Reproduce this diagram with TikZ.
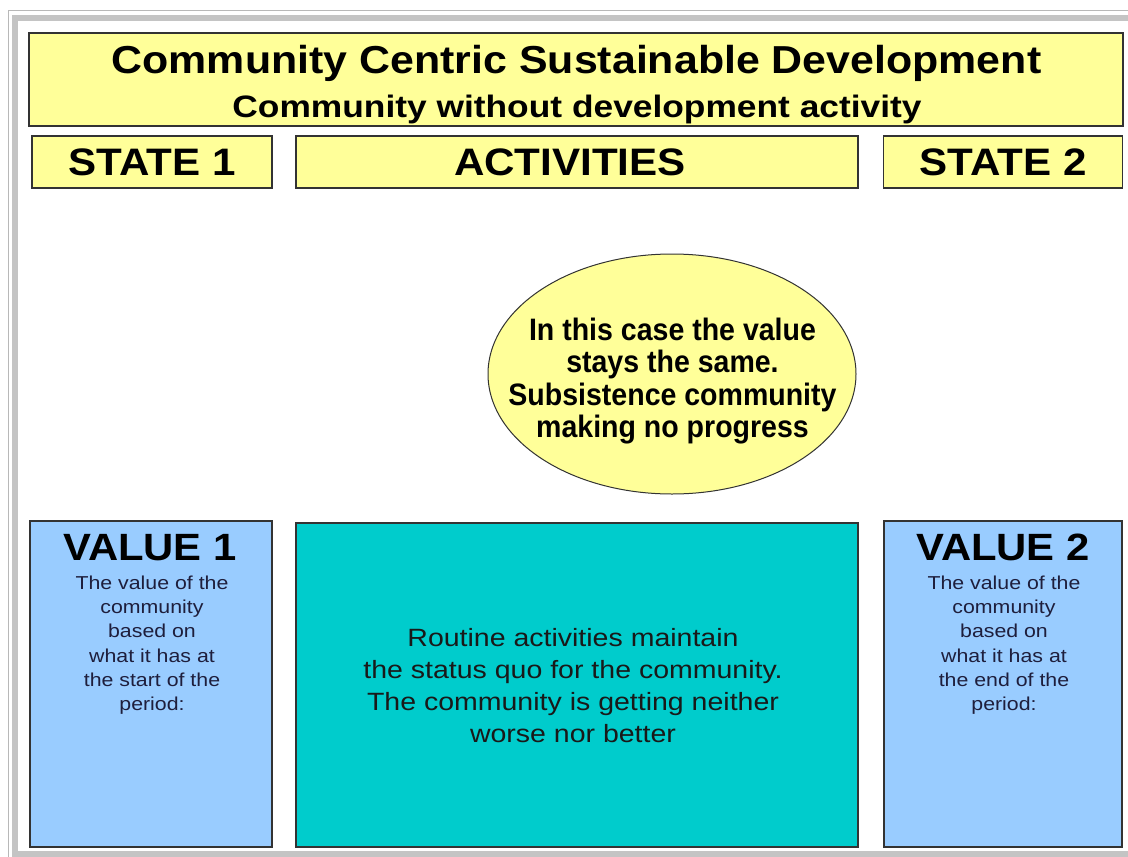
\documentclass[tikz,border=0pt]{standalone}
\usepackage{fontspec}
\setmainfont{Liberation Sans}
\newfontfamily\fwide[FakeStretch=1.1]{Liberation Sans}
\newfontfamily\fwider[FakeStretch=1.14]{Liberation Sans}
\newfontfamily\fnarrow[FakeStretch=0.92]{Liberation Sans}
\usetikzlibrary{shapes.geometric}
\definecolor{paleyellow}{HTML}{FFFF99}
\definecolor{paleblue}{HTML}{99CCFF}
\definecolor{teal2}{HTML}{00CCCC}
\definecolor{frameband}{HTML}{C4C4C4}
\definecolor{frameline}{HTML}{B8B8B8}
\definecolor{boxline}{HTML}{333333}
\definecolor{smalltxt}{HTML}{1E1E3C}
\begin{document}
\begin{tikzpicture}[x=1pt,y=-1pt,
  shapebox/.style={draw=boxline, line width=1.3pt, inner sep=0pt, anchor=center},
  ybox/.style={shapebox, fill=paleyellow},
  bbox/.style={shapebox, fill=paleblue},
  tbox/.style={shapebox, fill=teal2},
  oval/.style={draw=boxline, line width=1pt, fill=paleyellow, ellipse, inner sep=0pt},
  titlefont/.style={anchor=base, inner sep=0pt, font=\fwide\bfseries\fontsize{39}{44}\selectfont},
  subtitlefont/.style={anchor=base, inner sep=0pt, font=\fwider\bfseries\fontsize{31}{36}\selectfont},
  headfont/.style={anchor=base, inner sep=0pt, font=\fwide\bfseries\fontsize{38.3}{44}\selectfont},
  valfont/.style={anchor=base, inner sep=0pt, font=\fwide\bfseries\fontsize{38}{44}\selectfont},
  smallfont/.style={anchor=base, inner sep=0pt, text=smalltxt, font=\fwider\fontsize{18.7}{22}\selectfont},
  midfont/.style={anchor=base, inner sep=0pt, text=black!90, font=\fwider\fontsize{25}{30}\selectfont},
  ovalfont/.style={anchor=base, inner sep=0pt, font=\fnarrow\bfseries\fontsize{31}{34}\selectfont}
]
\useasboundingbox (0,0) rectangle (1128,857);
\fill[white] (0,0) rectangle (1128,857);
% frame
\draw[frameline, line width=1.5pt] (8.5,857) -- (8.5,10.5) -- (1128,10.5);
\fill[frameband] (12,15) rectangle (1128,21);
\fill[frameband] (12,15) rectangle (18,857);
\fill[frameband] (12,851) rectangle (1128,857);

% boxes
\node[ybox, minimum width=1094pt, minimum height=93pt] (title) at (576,79.5) {};
\node[ybox, minimum width=240pt, minimum height=52pt] (s1) at (152,162) {};
\node[ybox, minimum width=562pt, minimum height=52pt] (act) at (577,162) {};
\node[ybox, minimum width=239pt, minimum height=52pt] (s2) at (1003,162) {};
\node[bbox, minimum width=242pt, minimum height=326pt] (v1) at (151,684) {};
\node[tbox, minimum width=562pt, minimum height=324pt] (routine) at (577,685) {};
\node[bbox, minimum width=238pt, minimum height=326pt] (v2) at (1003,684) {};
\node[oval, minimum width=368pt, minimum height=240pt] (note) at (672,374) {};

% texts
\node[titlefont] (t1) at (576.5,73) {Community Centric Sustainable Development};
\node[subtitlefont] (t2) at (577,117) {Community without development activity};
\node[headfont] (s1t) at (152,175) {STATE 1};
\node[headfont] (actt) at (570,175) {ACTIVITIES};
\node[headfont] (s2t) at (1003,175) {STATE 2};
\node[valfont] (v1t) at (150,560) {VALUE 1};
\node[valfont] (v2t) at (1003,560) {VALUE 2};
\foreach \txt [count=\i] in {The value of the, community, based on, what it has at, the start of the, period:}
  \node[smallfont] (v1l\i) at (152,{589.5+24.2*(\i-1)}) {\txt};
\foreach \txt [count=\i] in {The value of the, community, based on, what it has at, the end of the, period:}
  \node[smallfont] (v2l\i) at (1004,{589.5+24.2*(\i-1)}) {\txt};
\foreach \txt [count=\i] in {Routine activities maintain, the status quo for the community., The community is getting neither, worse nor better}
  \node[midfont] (rl\i) at (573,{646+32*(\i-1)}) {\txt};
\foreach \txt [count=\i] in {In this case the value, stays the same., Subsistence community, making no progress}
  \node[ovalfont] (nl\i) at (672.5,{340.7+32.2*(\i-1)}) {\txt};
\end{tikzpicture}
\end{document}
